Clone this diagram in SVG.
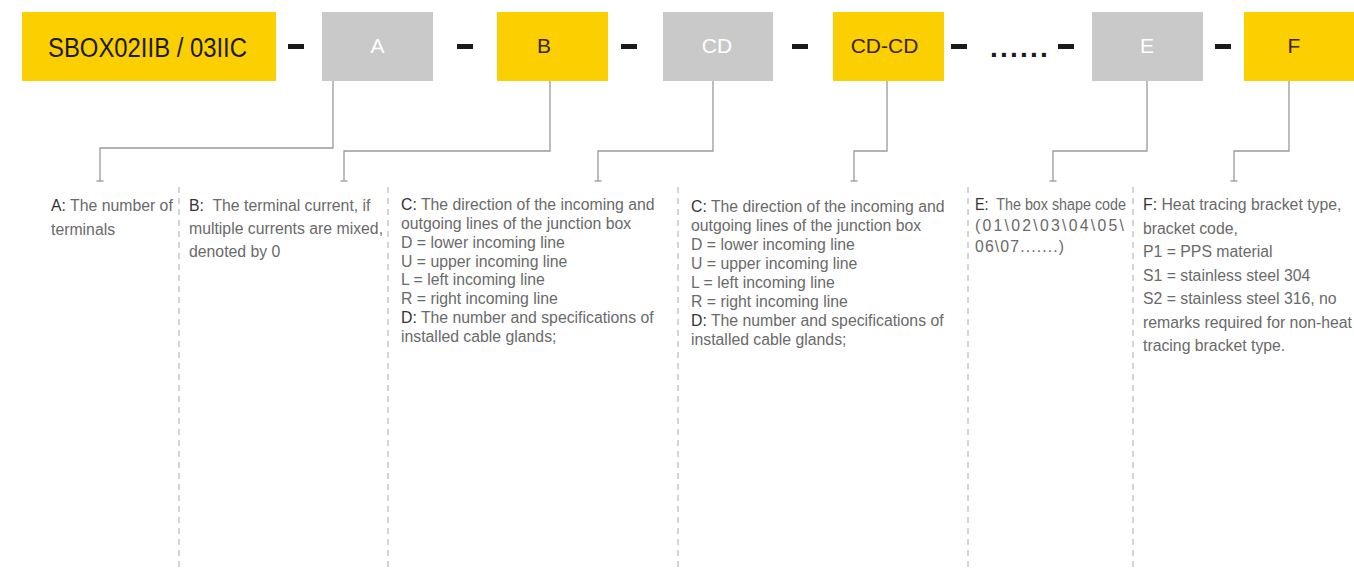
<svg xmlns="http://www.w3.org/2000/svg" width="1354" height="570" viewBox="0 0 1354 570">
<style>
.bg{fill:#ffffff}
.y{fill:#fccf00}
.g{fill:#c9c9c9}
.dash{fill:#1a1a1a}
.kt{font-family:"Liberation Sans",Arial,sans-serif;font-size:21px;text-anchor:middle}
.w{fill:#ffffff}
.d{fill:#3a2600}
.conn{fill:none;stroke:#9a9a9a;stroke-width:1.3}
.sep{stroke:#aaaaaa;stroke-width:1;stroke-dasharray:6 5}
.body{font-family:"Liberation Sans",Arial,sans-serif;font-size:15.8px;fill:#6a6a6a;white-space:pre}
.lbl{fill:#333333}
</style>
<defs>
<marker id="tick" markerUnits="userSpaceOnUse" markerWidth="10" markerHeight="10" refX="0" refY="0" viewBox="-5 -5 10 10" orient="auto">
<path d="M0,-3.5 L0,3.5" stroke="#9a9a9a" stroke-width="1.3"/>
</marker>
</defs>
<rect class="bg" x="0" y="0" width="1354" height="570"/>

<g id="node-sbox">
<rect class="y" x="22" y="12" width="254" height="69"/>
<text x="147.5" y="57" font-family="'Liberation Sans',Arial,sans-serif" font-size="27" fill="#1a1a1a" text-anchor="middle" textLength="199" lengthAdjust="spacingAndGlyphs">SBOX02IIB / 03IIC</text>
</g>

<g id="separators-top">
<rect class="dash" x="288" y="44" width="16" height="5"/>
<rect class="dash" x="457" y="44" width="16" height="5"/>
<rect class="dash" x="621" y="44" width="16" height="5"/>
<rect class="dash" x="792" y="44" width="16" height="5"/>
<rect class="dash" x="951" y="44" width="16" height="5"/>
<text x="990" y="57" font-family="'Liberation Sans',Arial,sans-serif" font-weight="bold" font-size="28" fill="#1a1a1a" letter-spacing="2.2">......</text>
<rect class="dash" x="1058" y="44" width="16" height="5"/>
<rect class="dash" x="1215" y="44" width="16" height="5"/>
</g>

<g id="node-a">
<rect class="g" x="322" y="12" width="111" height="69"/>
<text class="kt w" x="377.5" y="53">A</text>
</g>
<g id="node-b">
<rect class="y" x="497" y="12" width="111" height="69"/>
<text class="kt d" x="544" y="53">B</text>
</g>
<g id="node-cd">
<rect class="g" x="663" y="12" width="110" height="69"/>
<text class="kt w" x="717" y="53">CD</text>
</g>
<g id="node-cdcd">
<rect class="y" x="833" y="12" width="111" height="69"/>
<text class="kt d" x="884.5" y="53" font-size="22">CD-CD</text>
</g>
<g id="node-e">
<rect class="g" x="1092" y="12" width="111" height="69"/>
<text class="kt w" x="1147" y="53">E</text>
</g>
<g id="node-f">
<rect class="y" x="1244" y="12" width="110" height="69"/>
<text class="kt d" x="1294" y="53">F</text>
</g>

<g id="connectors">
<path class="conn" d="M333,81 V148 H100 V181" marker-end="url(#tick)"/>
<path class="conn" d="M550,81 V151 H344 V181" marker-end="url(#tick)"/>
<path class="conn" d="M713,81 V151 H598 V181" marker-end="url(#tick)"/>
<path class="conn" d="M887,81 V151 H854 V181" marker-end="url(#tick)"/>
<path class="conn" d="M1147,81 V151 H1053 V181" marker-end="url(#tick)"/>
<path class="conn" d="M1289,81 V151 H1234 V181" marker-end="url(#tick)"/>
</g>

<g id="column-separators">
<line class="sep" x1="179" y1="187" x2="179" y2="570"/>
<line class="sep" x1="388" y1="187" x2="388" y2="570"/>
<line class="sep" x1="678" y1="187" x2="678" y2="570"/>
<line class="sep" x1="968" y1="187" x2="968" y2="570"/>
<line class="sep" x1="1133" y1="187" x2="1133" y2="570"/>
</g>

<g id="desc-a">
<text class="body" x="51" y="211"><tspan class="lbl">A:</tspan> The number of</text>
<text class="body" x="51" y="235">terminals</text>
</g>

<g id="desc-b">
<text class="body" x="189" y="211"><tspan class="lbl">B:</tspan>  The terminal current, if</text>
<text class="body" x="189" y="234">multiple currents are mixed,</text>
<text class="body" x="189" y="257">denoted by 0</text>
</g>

<g id="desc-cd">
<text class="body" x="401" y="210"><tspan class="lbl">C:</tspan> The direction of the incoming and</text>
<text class="body" x="401" y="229">outgoing lines of the junction box</text>
<text class="body" x="401" y="248">D = lower incoming line</text>
<text class="body" x="401" y="267">U = upper incoming line</text>
<text class="body" x="401" y="285">L = left incoming line</text>
<text class="body" x="401" y="304">R = right incoming line</text>
<text class="body" x="401" y="323"><tspan class="lbl">D:</tspan> The number and specifications of</text>
<text class="body" x="401" y="342">installed cable glands;</text>
</g>

<g id="desc-cdcd">
<text class="body" x="691" y="212"><tspan class="lbl">C:</tspan> The direction of the incoming and</text>
<text class="body" x="691" y="231">outgoing lines of the junction box</text>
<text class="body" x="691" y="250">D = lower incoming line</text>
<text class="body" x="691" y="269">U = upper incoming line</text>
<text class="body" x="691" y="288">L = left incoming line</text>
<text class="body" x="691" y="307">R = right incoming line</text>
<text class="body" x="691" y="326"><tspan class="lbl">D:</tspan> The number and specifications of</text>
<text class="body" x="691" y="345">installed cable glands;</text>
</g>

<g id="desc-e">
<text class="body" x="975" y="210" font-size="14.5" textLength="151" lengthAdjust="spacingAndGlyphs"><tspan class="lbl">E:</tspan>  The box shape code</text>
<text class="body" x="975" y="231" font-size="14.5" textLength="149" lengthAdjust="spacing">(01\02\03\04\05\</text>
<text class="body" x="975" y="252" font-size="14.5" textLength="89" lengthAdjust="spacing">06\07.......)</text>
</g>

<g id="desc-f">
<text class="body" x="1143" y="210"><tspan class="lbl">F:</tspan> Heat tracing bracket type,</text>
<text class="body" x="1143" y="233.5">bracket code,</text>
<text class="body" x="1143" y="257" font-size="14.5">P1 = PPS material</text>
<text class="body" x="1143" y="280.5">S1 = stainless steel 304</text>
<text class="body" x="1143" y="304">S2 = stainless steel 316, no</text>
<text class="body" x="1143" y="327.5">remarks required for non-heat</text>
<text class="body" x="1143" y="351">tracing bracket type.</text>
</g>
</svg>
